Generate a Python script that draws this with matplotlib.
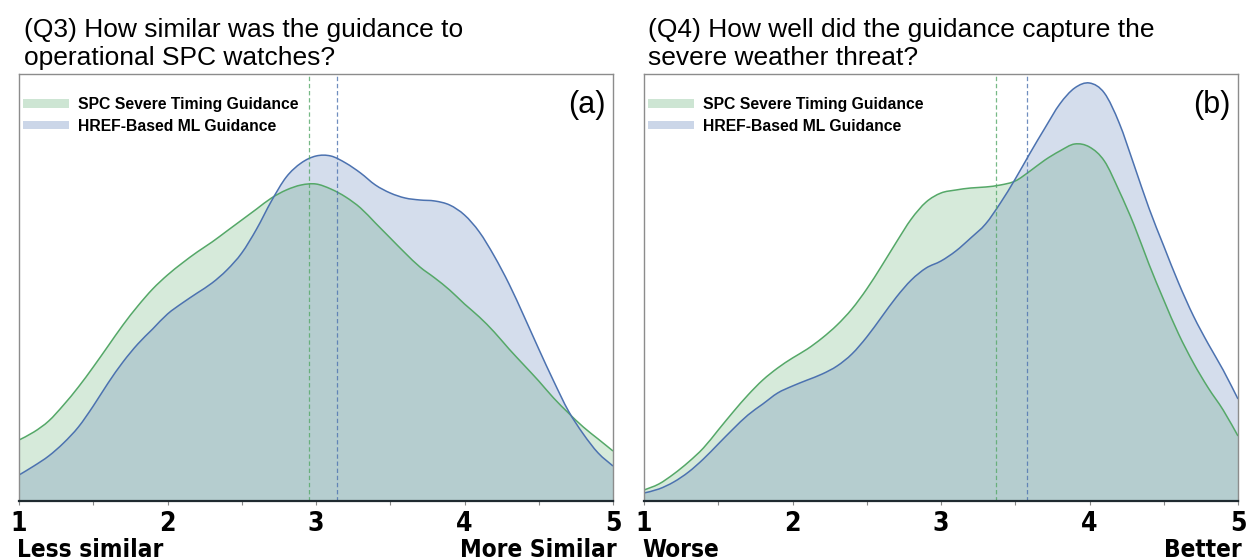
import matplotlib
matplotlib.use("Agg")
import matplotlib.pyplot as plt
from matplotlib.patches import Patch, PathPatch
from matplotlib.path import Path
from matplotlib.ticker import MultipleLocator

# ---------------- data ----------------
x_grid = [1.0, 1.1, 1.2, 1.3, 1.4, 1.5, 1.6, 1.7, 1.8, 1.9,
          2.0, 2.1, 2.2, 2.3, 2.4, 2.5, 2.6, 2.7, 2.8, 2.9,
          3.0, 3.1, 3.2, 3.3, 3.4, 3.5, 3.6, 3.7, 3.8, 3.9,
          4.0, 4.1, 4.2, 4.3, 4.4, 4.5, 4.6, 4.7, 4.8, 4.9, 5.0]

# (Q3) density curves
q3_spc = [0.061, 0.069, 0.080, 0.096, 0.114, 0.134, 0.155, 0.176, 0.195, 0.212,
          0.226, 0.238, 0.249, 0.259, 0.270, 0.281, 0.292, 0.303, 0.311, 0.316,
          0.317, 0.312, 0.304, 0.293, 0.278, 0.263, 0.248, 0.234, 0.223, 0.211,
          0.197, 0.184, 0.169, 0.152, 0.136, 0.120, 0.103, 0.088, 0.074, 0.062, 0.050]
q3_ml = [0.026, 0.035, 0.045, 0.058, 0.074, 0.095, 0.118, 0.139, 0.157, 0.172,
         0.187, 0.198, 0.208, 0.218, 0.231, 0.248, 0.272, 0.300, 0.324, 0.338,
         0.345, 0.345, 0.338, 0.328, 0.316, 0.308, 0.303, 0.301, 0.300, 0.296,
         0.286, 0.269, 0.245, 0.217, 0.185, 0.152, 0.120, 0.090, 0.067, 0.048, 0.035]

# (Q4) density curves
q4_spc = [0.011, 0.017, 0.027, 0.039, 0.053, 0.071, 0.089, 0.106, 0.121, 0.133,
          0.143, 0.152, 0.163, 0.176, 0.192, 0.212, 0.235, 0.259, 0.282, 0.299,
          0.308, 0.311, 0.313, 0.314, 0.316, 0.320, 0.330, 0.341, 0.350, 0.357,
          0.354, 0.340, 0.310, 0.276, 0.237, 0.201, 0.167, 0.138, 0.113, 0.091, 0.065]
q4_ml = [0.008, 0.012, 0.019, 0.029, 0.042, 0.057, 0.072, 0.086, 0.097, 0.108,
         0.115, 0.121, 0.127, 0.135, 0.147, 0.164, 0.184, 0.204, 0.221, 0.233,
         0.240, 0.250, 0.263, 0.277, 0.298, 0.322, 0.348, 0.373, 0.397, 0.413,
         0.418, 0.408, 0.378, 0.336, 0.293, 0.255, 0.218, 0.185, 0.157, 0.131, 0.102]

# means (dashed lines)
q3_means = [2.95, 3.14]
q4_means = [3.37, 3.58]

series_names = ["SPC Severe Timing Guidance", "HREF-Based ML Guidance"]
tick_values = [1, 2, 3, 4, 5]
tick_labels = ["1", "2", "3", "4", "5"]

titles = [["(Q3) How similar was the guidance to", "operational SPC watches?"],
          ["(Q4) How well did the guidance capture the", "severe weather threat?"]]
panel_tags = ["(a)", "(b)"]
end_labels = [["Less similar", "More Similar"], ["Worse", "Better"]]

# ---------------- style ----------------
GREEN = "#55A868"
BLUE = "#4C72B0"
FILL_ALPHA = 0.24
NARROW = ["DejaVu Sans"]
SANS = ["Liberation Sans", "DejaVu Sans"]


def smooth_vertices(xs, ys):
    """Catmull-Rom style cubic Bezier path through the given data points."""
    n = len(xs)
    verts = [(xs[0], ys[0])]
    codes = [Path.MOVETO]
    for i in range(n - 1):
        x0, y0 = (xs[i - 1], ys[i - 1]) if i > 0 else (xs[i], ys[i])
        x1, y1 = xs[i], ys[i]
        x2, y2 = xs[i + 1], ys[i + 1]
        x3, y3 = (xs[i + 2], ys[i + 2]) if i + 2 < n else (xs[i + 1], ys[i + 1])
        c1 = (x1 + (x2 - x0) / 6.0, y1 + (y2 - y0) / 6.0)
        c2 = (x2 - (x3 - x1) / 6.0, y2 - (y3 - y1) / 6.0)
        verts += [c1, c2, (x2, y2)]
        codes += [Path.CURVE4] * 3
    return verts, codes


def draw_density(ax, xs, ys, color):
    verts, codes = smooth_vertices(xs, ys)
    fill_verts = verts + [(xs[-1], 0.0), (xs[0], 0.0), (xs[0], ys[0])]
    fill_codes = codes + [Path.LINETO, Path.LINETO, Path.CLOSEPOLY]
    ax.add_patch(PathPatch(Path(fill_verts, fill_codes), facecolor=color,
                           alpha=FILL_ALPHA, lw=0, edgecolor="none"))
    return verts, codes


fig = plt.figure(figsize=(12.5, 5.6), dpi=100)

W, H = 1250.0, 560.0
ax_rects = [
    (19 / W, (H - 501) / H, 594 / W, 427 / H),
    (644 / W, (H - 501) / H, 594 / W, 427 / H),
]
title_x = [24 / W, 648 / W]

panels = [(q3_spc, q3_ml, q3_means), (q4_spc, q4_ml, q4_means)]

for i, (spc, ml, means) in enumerate(panels):
    ax = fig.add_axes(ax_rects[i])
    g_path = draw_density(ax, x_grid, spc, GREEN)
    b_path = draw_density(ax, x_grid, ml, BLUE)
    ax.add_patch(PathPatch(Path(*g_path), facecolor="none", edgecolor=GREEN, lw=1.1))
    ax.add_patch(PathPatch(Path(*b_path), facecolor="none", edgecolor=BLUE, lw=1.1))
    ax.axvline(means[0], color=GREEN, lw=0.9, ls=(0, (3.5, 2.2)), alpha=0.8)
    ax.axvline(means[1], color=BLUE, lw=0.9, ls=(0, (3.5, 2.2)), alpha=0.8)

    ax.set_xlim(1, 5)
    ax.set_ylim(0, 0.427)
    ax.set_yticks([])
    ax.set_xticks(tick_values)
    ax.set_xticklabels(tick_labels)
    ax.xaxis.set_minor_locator(MultipleLocator(0.5))
    ax.tick_params(axis="x", which="both", direction="out", length=3,
                   color="#888888", width=0.8, pad=4)
    for lab in ax.get_xticklabels():
        lab.set_family(NARROW)
        lab.set_fontweight("bold")
        lab.set_fontstretch("condensed")
        lab.set_fontsize(19)

    for side in ["left", "top", "right"]:
        ax.spines[side].set_color("#8c8c8c")
        ax.spines[side].set_linewidth(1.0)
    ax.spines["bottom"].set_color("#1f2a30")
    ax.spines["bottom"].set_linewidth(1.6)

    handles = [Patch(facecolor=GREEN, alpha=FILL_ALPHA + 0.05, edgecolor="none"),
               Patch(facecolor=BLUE, alpha=FILL_ALPHA + 0.05, edgecolor="none")]
    ax.legend(handles, series_names, loc="upper left",
              bbox_to_anchor=(4 / 594, 1 - 23 / 427), borderaxespad=0,
              frameon=False, handlelength=2.9, handleheight=0.5,
              handletextpad=0.6, labelspacing=0.42, borderpad=0,
              prop={"family": SANS, "weight": "bold", "size": 11.3})

    ax.text(0.988, 0.928, panel_tags[i], transform=ax.transAxes,
            ha="right", va="center", fontsize=22, family=SANS)

    ax.text(-0.003, -0.114, end_labels[i][0], transform=ax.transAxes,
            ha="left", va="center", fontsize=17.5, fontweight="bold",
            family=NARROW, fontstretch="condensed")
    ax.text(1.006, -0.114, end_labels[i][1], transform=ax.transAxes,
            ha="right", va="center", fontsize=17.5, fontweight="bold",
            family=NARROW, fontstretch="condensed")

    fig.text(title_x[i], 1 - 36.7 / H, titles[i][0], ha="left", va="baseline",
             fontsize=19, family=SANS)
    fig.text(title_x[i], 1 - 65 / H, titles[i][1], ha="left", va="baseline",
             fontsize=19, family=SANS)

fig.savefig("out.png", dpi=100)
